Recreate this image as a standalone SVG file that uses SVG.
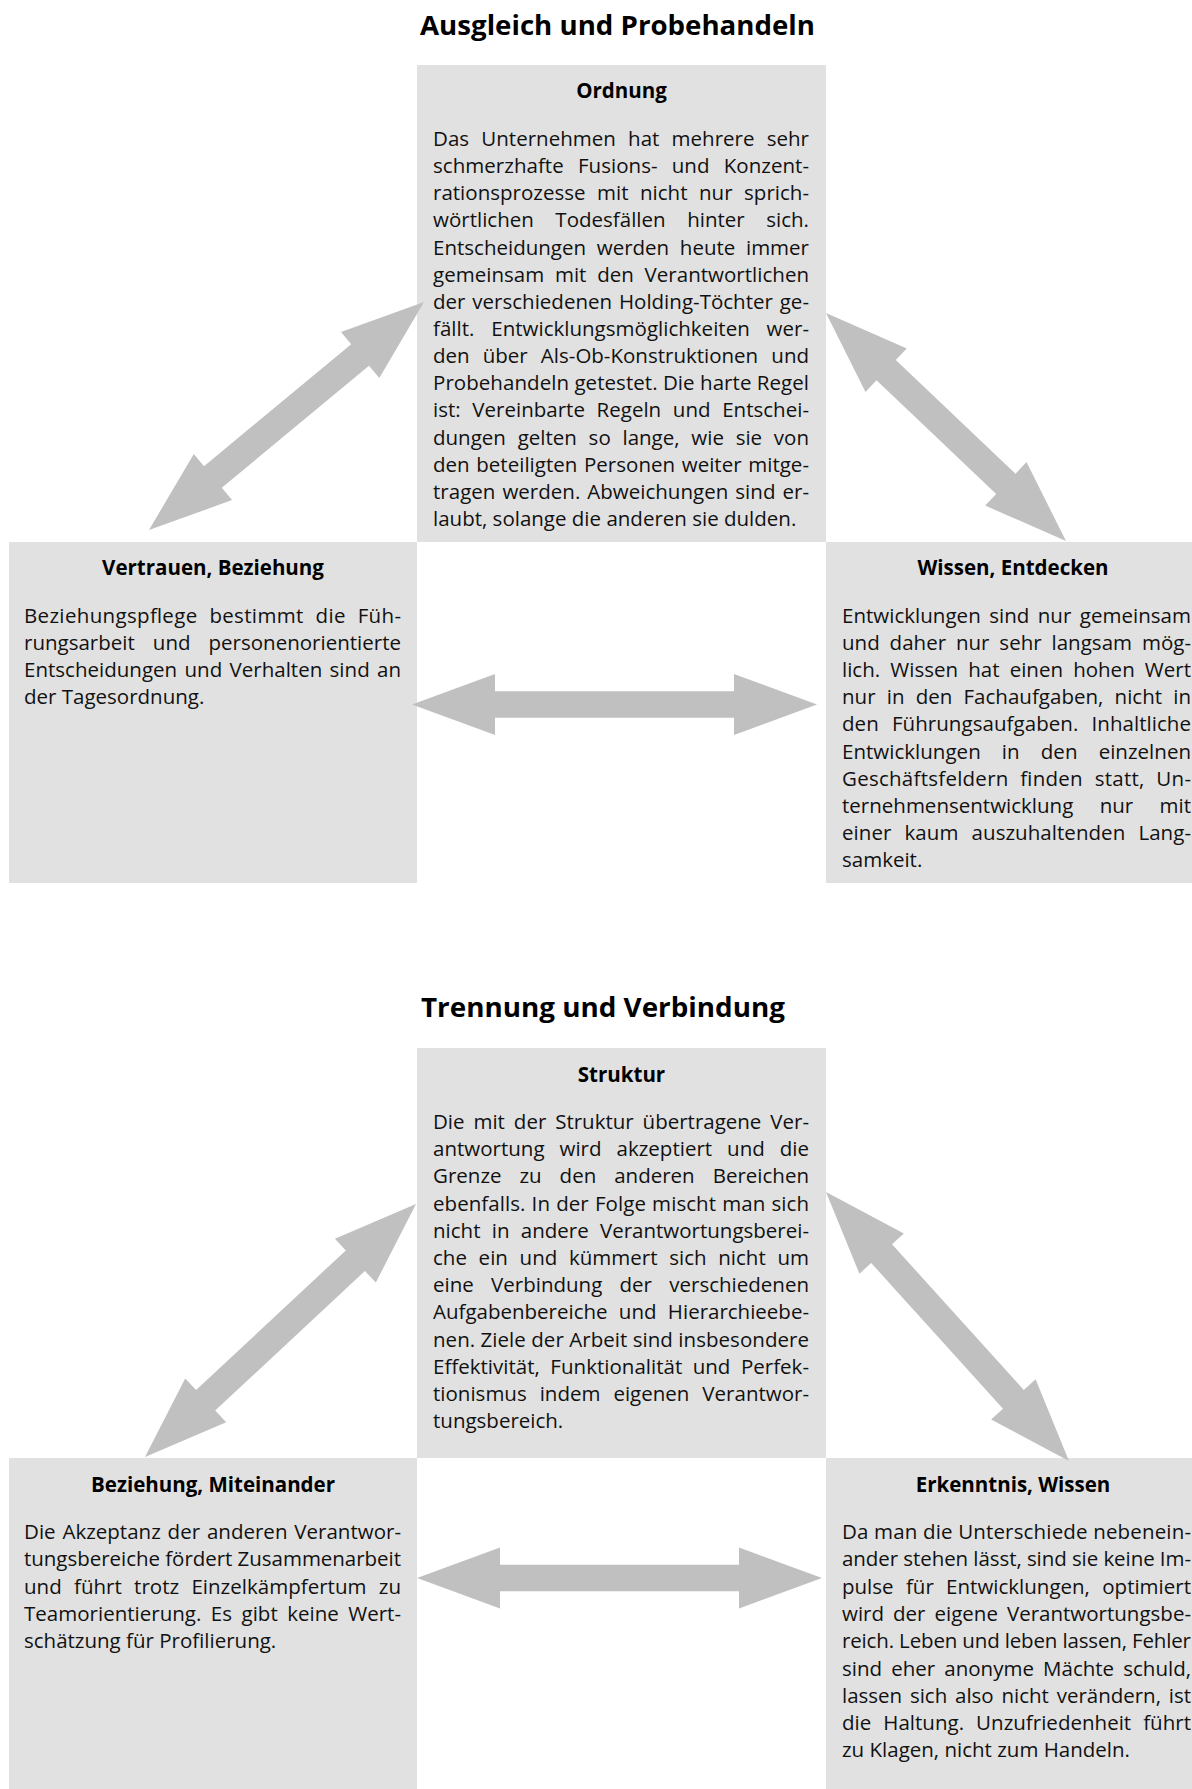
<svg xmlns="http://www.w3.org/2000/svg" width="1192" height="1789" viewBox="0 0 1192 1789">
<style>
.bg{fill:#ffffff}
.box{fill:#e1e1e1}
.arrow{fill:#c0c0c0}
.title{font-family:"Open Sans","Noto Sans","Liberation Sans",sans-serif;font-weight:700;font-size:26.4px;fill:#000}
.head{font-family:"Open Sans","Noto Sans","Liberation Sans",sans-serif;font-weight:700;font-size:20.5px;fill:#000;text-anchor:middle}
.body{font-family:"Open Sans","Noto Sans","Liberation Sans",sans-serif;font-size:20.5px;fill:#111}
</style>
<rect class="bg" x="0" y="0" width="1192" height="1789"/>

<text class="title" x="420" y="35" textLength="395" lengthAdjust="spacingAndGlyphs">Ausgleich und Probehandeln</text>

<g id="node-ordnung">
<rect class="box" x="417" y="65" width="409" height="477"/>
<text class="head" x="621.5" y="98">Ordnung</text>
<text class="body" x="433" y="146" word-spacing="6.9" textLength="376" lengthAdjust="spacing">Das Unternehmen hat mehrere sehr</text>
<text class="body" x="433" y="173.1" word-spacing="8.8" textLength="376" lengthAdjust="spacing">schmerzhafte Fusions- und Konzent-</text>
<text class="body" x="433" y="200.3" word-spacing="6.2" textLength="376" lengthAdjust="spacing">rationsprozesse mit nicht nur sprich-</text>
<text class="body" x="433" y="227.4" word-spacing="16.2" textLength="376" lengthAdjust="spacing">wörtlichen Todesfällen hinter sich.</text>
<text class="body" x="433" y="254.6" word-spacing="5.3" textLength="376" lengthAdjust="spacing">Entscheidungen werden heute immer</text>
<text class="body" x="433" y="281.7" word-spacing="5.4" textLength="376" lengthAdjust="spacing">gemeinsam mit den Verantwortlichen</text>
<text class="body" x="433" y="308.8" word-spacing="1.5" textLength="376" lengthAdjust="spacing">der verschiedenen Holding-Töchter ge-</text>
<text class="body" x="433" y="336" word-spacing="11.5" textLength="376" lengthAdjust="spacing">fällt. Entwicklungsmöglichkeiten wer-</text>
<text class="body" x="433" y="363.1" word-spacing="7.8" textLength="376" lengthAdjust="spacing">den über Als-Ob-Konstruktionen und</text>
<text class="body" x="433" y="390.3" textLength="376" lengthAdjust="spacing">Probehandeln getestet. Die harte Regel</text>
<text class="body" x="433" y="417.4" word-spacing="6.3" textLength="376" lengthAdjust="spacing">ist: Vereinbarte Regeln und Entschei-</text>
<text class="body" x="433" y="444.5" word-spacing="6.4" textLength="376" lengthAdjust="spacing">dungen gelten so lange, wie sie von</text>
<text class="body" x="433" y="471.7" word-spacing="1.3" textLength="376" lengthAdjust="spacing">den beteiligten Personen weiter mitge-</text>
<text class="body" x="433" y="498.8" word-spacing="1.7" textLength="376" lengthAdjust="spacing">tragen werden. Abweichungen sind er-</text>
<text class="body" x="433" y="526">laubt, solange die anderen sie dulden.</text>
</g>

<g id="node-vertrauen">
<rect class="box" x="9" y="542" width="408" height="341"/>
<text class="head" x="213" y="575">Vertrauen, Beziehung</text>
<text class="body" x="24" y="622.5" word-spacing="6.2" textLength="377" lengthAdjust="spacing">Beziehungspflege bestimmt die Füh-</text>
<text class="body" x="24" y="649.7" word-spacing="12.7" textLength="377" lengthAdjust="spacing">rungsarbeit und personenorientierte</text>
<text class="body" x="24" y="676.9" word-spacing="2" textLength="377" lengthAdjust="spacing">Entscheidungen und Verhalten sind an</text>
<text class="body" x="24" y="704.1">der Tagesordnung.</text>
</g>

<g id="node-wissen">
<rect class="box" x="826" y="542" width="366" height="341"/>
<text class="head" x="1013" y="575">Wissen, Entdecken</text>
<text class="body" x="842" y="622.5" word-spacing="3.1" textLength="349" lengthAdjust="spacing">Entwicklungen sind nur gemeinsam</text>
<text class="body" x="842" y="649.7" word-spacing="4.5" textLength="349" lengthAdjust="spacing">und daher nur sehr langsam mög-</text>
<text class="body" x="842" y="676.9" word-spacing="4.8" textLength="349" lengthAdjust="spacing">lich. Wissen hat einen hohen Wert</text>
<text class="body" x="842" y="704.1" word-spacing="5.8" textLength="349" lengthAdjust="spacing">nur in den Fachaufgaben, nicht in</text>
<text class="body" x="842" y="731.3" word-spacing="7.8" textLength="349" lengthAdjust="spacing">den Führungsaufgaben. Inhaltliche</text>
<text class="body" x="842" y="758.5" word-spacing="15.8" textLength="349" lengthAdjust="spacing">Entwicklungen in den einzelnen</text>
<text class="body" x="842" y="785.7" word-spacing="6.2" textLength="349" lengthAdjust="spacing">Geschäftsfeldern finden statt, Un-</text>
<text class="body" x="842" y="812.9" word-spacing="21" textLength="349" lengthAdjust="spacing">ternehmensentwicklung nur mit</text>
<text class="body" x="842" y="840.1" word-spacing="7.8" textLength="349" lengthAdjust="spacing">einer kaum auszuhaltenden Lang-</text>
<text class="body" x="842" y="867.3">samkeit.</text>
</g>

<text class="title" x="421" y="1016.7" textLength="364" lengthAdjust="spacingAndGlyphs">Trennung und Verbindung</text>

<g id="node-struktur">
<rect class="box" x="417" y="1048" width="409" height="410"/>
<text class="head" x="621.5" y="1081.7">Struktur</text>
<text class="body" x="433" y="1129" word-spacing="3.6" textLength="376" lengthAdjust="spacing">Die mit der Struktur übertragene Ver-</text>
<text class="body" x="433" y="1156.2" word-spacing="9.6" textLength="376" lengthAdjust="spacing">antwortung wird akzeptiert und die</text>
<text class="body" x="433" y="1183.4" word-spacing="12.6" textLength="376" lengthAdjust="spacing">Grenze zu den anderen Bereichen</text>
<text class="body" x="433" y="1210.6" word-spacing="0.8" textLength="376" lengthAdjust="spacing">ebenfalls. In der Folge mischt man sich</text>
<text class="body" x="433" y="1237.8" word-spacing="6" textLength="376" lengthAdjust="spacing">nicht in andere Verantwortungsberei-</text>
<text class="body" x="433" y="1265" word-spacing="6.4" textLength="376" lengthAdjust="spacing">che ein und kümmert sich nicht um</text>
<text class="body" x="433" y="1292.2" word-spacing="11.9" textLength="376" lengthAdjust="spacing">eine Verbindung der verschiedenen</text>
<text class="body" x="433" y="1319.4" word-spacing="6" textLength="376" lengthAdjust="spacing">Aufgabenbereiche und Hierarchieebe-</text>
<text class="body" x="433" y="1346.6" textLength="376" lengthAdjust="spacing">nen. Ziele der Arbeit sind insbesondere</text>
<text class="body" x="433" y="1373.8" word-spacing="5.1" textLength="376" lengthAdjust="spacing">Effektivität, Funktionalität und Perfek-</text>
<text class="body" x="433" y="1401" word-spacing="7.6" textLength="376" lengthAdjust="spacing">tionismus indem eigenen Verantwor-</text>
<text class="body" x="433" y="1428.2">tungsbereich.</text>
</g>

<g id="node-beziehung">
<rect class="box" x="9" y="1458" width="408" height="331"/>
<text class="head" x="213" y="1491.7">Beziehung, Miteinander</text>
<text class="body" x="24" y="1539" word-spacing="1.5" textLength="377" lengthAdjust="spacing">Die Akzeptanz der anderen Verantwor-</text>
<text class="body" x="24" y="1566.3" textLength="377" lengthAdjust="spacing">tungsbereiche fördert Zusammenarbeit</text>
<text class="body" x="24" y="1593.6" word-spacing="6.9" textLength="377" lengthAdjust="spacing">und führt trotz Einzelkämpfertum zu</text>
<text class="body" x="24" y="1620.9" word-spacing="4.1" textLength="377" lengthAdjust="spacing">Teamorientierung. Es gibt keine Wert-</text>
<text class="body" x="24" y="1648.2">schätzung für Profilierung.</text>
</g>

<g id="node-erkenntnis">
<rect class="box" x="826" y="1458" width="366" height="331"/>
<text class="head" x="1013" y="1491.7">Erkenntnis, Wissen</text>
<text class="body" x="842" y="1539" textLength="349" lengthAdjust="spacing">Da man die Unterschiede nebenein-</text>
<text class="body" x="842" y="1566.3" textLength="349" lengthAdjust="spacing">ander stehen lässt, sind sie keine Im-</text>
<text class="body" x="842" y="1593.6" word-spacing="7" textLength="349" lengthAdjust="spacing">pulse für Entwicklungen, optimiert</text>
<text class="body" x="842" y="1620.9" word-spacing="3.7" textLength="349" lengthAdjust="spacing">wird der eigene Verantwortungsbe-</text>
<text class="body" x="842" y="1648.2" textLength="349" lengthAdjust="spacing">reich. Leben und leben lassen, Fehler</text>
<text class="body" x="842" y="1675.5" word-spacing="3.85" textLength="349" lengthAdjust="spacing">sind eher anonyme Mächte schuld,</text>
<text class="body" x="842" y="1702.8" word-spacing="2.5" textLength="349" lengthAdjust="spacing">lassen sich also nicht verändern, ist</text>
<text class="body" x="842" y="1730.1" word-spacing="6.7" textLength="349" lengthAdjust="spacing">die Haltung. Unzufriedenheit führt</text>
<text class="body" x="842" y="1757.4">zu Klagen, nicht zum Handeln.</text>
</g>

<g id="connectors">
<polygon class="arrow" points="149,530 232.1,500.1 221.8,487.8 369,365.8 379.3,378.1 424,302 341,331.9 351.2,344.2 204,466.2 193.8,453.9"/>
<polygon class="arrow" points="826,313 865.5,391.9 876.5,380.3 996.2,494 985.2,505.6 1066,541 1026.5,462.1 1015.5,473.7 895.8,360 906.8,348.4"/>
<polygon class="arrow" points="412,704.5 495,674 495,691.2 734,691.2 734,674 817,704.5 734,735 734,717.8 495,717.8 495,735"/>
<polygon class="arrow" points="145,1457 226.2,1422.3 215.2,1410.6 364.9,1270.9 375.8,1282.6 416,1204 334.9,1238.7 345.8,1250.4 196.1,1390.1 185.2,1378.4"/>
<polygon class="arrow" points="826,1192 859.4,1273.7 871.2,1263 1003,1408.8 991.1,1419.5 1069,1461 1035.6,1379.3 1023.8,1390 892,1244.2 903.9,1233.5"/>
<polygon class="arrow" points="417,1578 500,1547.5 500,1564.7 739,1564.7 739,1547.5 822,1578 739,1608.5 739,1591.3 500,1591.3 500,1608.5"/>
</g>
</svg>
